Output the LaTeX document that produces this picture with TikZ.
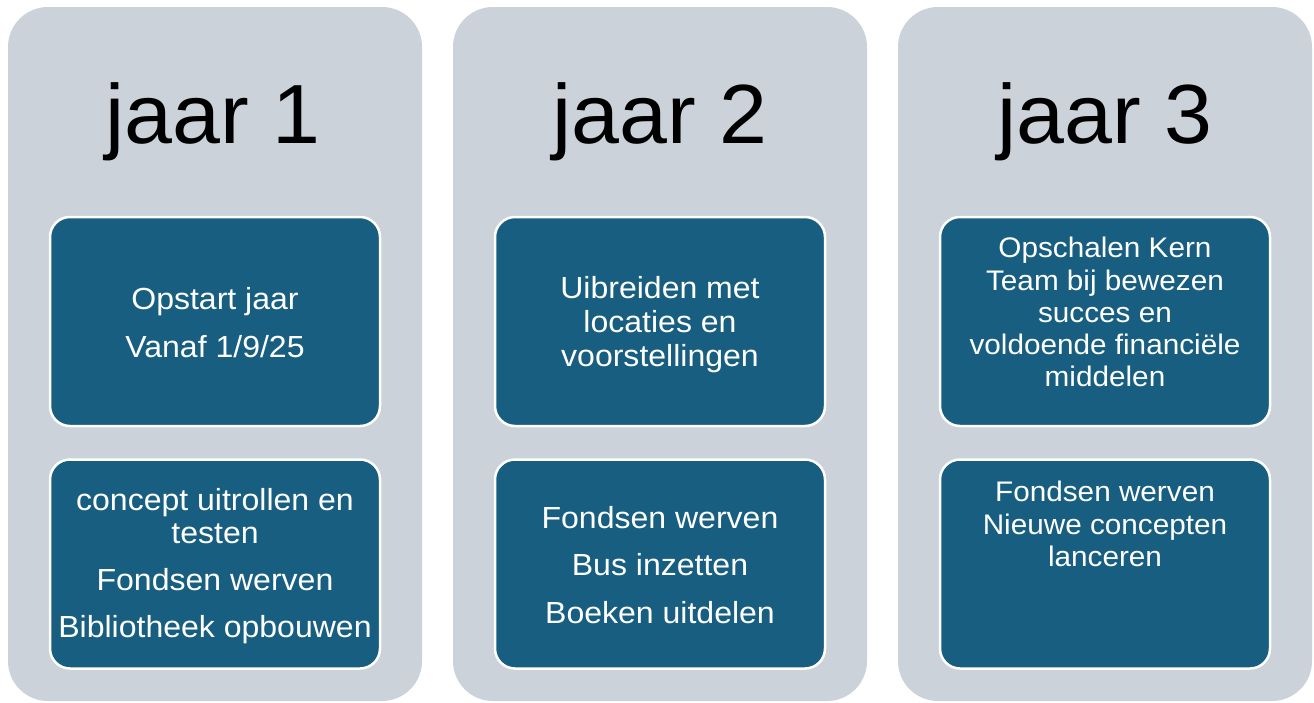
\documentclass[tikz,border=0pt]{standalone}
\usepackage{fontspec}
\setmainfont[FakeStretch=1.05]{Liberation Sans}
\newfontfamily\titlefont[FakeStretch=1.025]{Liberation Sans}
\definecolor{panelgray}{RGB}{203,210,218}
\definecolor{boxteal}{RGB}{23,94,128}
\begin{document}
\begin{tikzpicture}[x=1pt,y=-1pt,
  panel/.style={fill=panelgray, draw=none, rounded corners=40pt, minimum width=414pt, minimum height=694pt, inner sep=0pt},
  stepbox/.style={draw=white, line width=2.5pt, fill=boxteal, rounded corners=20pt, minimum width=330pt, minimum height=209pt, inner sep=0pt},
  yeartitle/.style={font=\titlefont\fontsize{84}{90}\selectfont, text=black, anchor=base, inner sep=0pt},
  body/.style={font=\fontsize{30.5}{32.5}\selectfont, text=white, align=center, inner sep=0pt},
  smallbody/.style={font=\fontsize{28.3}{32.3}\selectfont, text=white, align=center, inner sep=0pt, anchor=north}]
\useasboundingbox (0,0) rectangle (1314,702);
\fill[white] (0,0) rectangle (1314,702);
% panels
\node[panel] (p1) at (215,354) {};
\node[panel] (p2) at (660,354) {};
\node[panel] (p3) at (1105,354) {};
% titles
\node[yeartitle] (t1) at (213,143) {jaar 1};
\node[yeartitle] (t2) at (660,143) {jaar 2};
\node[yeartitle] (t3) at (1105,143) {jaar 3};
% boxes
\node[stepbox] (b11) at (215,321.5) {};
\node[stepbox] (b12) at (215,564) {};
\node[stepbox] (b21) at (660,321.5) {};
\node[stepbox] (b22) at (660,564) {};
\node[stepbox] (b31) at (1105,321.5) {};
\node[stepbox] (b32) at (1105,564) {};
% texts
\node[body] (x11) at ([yshift=-1pt]b11.center) {Opstart jaar\\[15.5pt]Vanaf 1/9/25};
\node[body] (x12) at ([yshift=-2pt]b12.center) {concept uitrollen en\\[0.5pt]testen\\[14.5pt]Fondsen werven\\[15pt]Bibliotheek opbouwen};
\node[body] (x21) at ([yshift=-3pt]b21.center) {Uibreiden met\\[1.5pt]locaties en\\[1.5pt]voorstellingen};
\node[body] (x22) at ([yshift=-1pt]b22.center) {Fondsen werven\\[15pt]Bus inzetten\\[15pt]Boeken uitdelen};
\node[smallbody] (x31) at (1105,237) {Opschalen Kern\\Team bij bewezen\\succes en\\voldoende financiële\\middelen};
\node[smallbody] (x32) at (1105,481) {Fondsen werven\\Nieuwe concepten\\lanceren};
\end{tikzpicture}
\end{document}
